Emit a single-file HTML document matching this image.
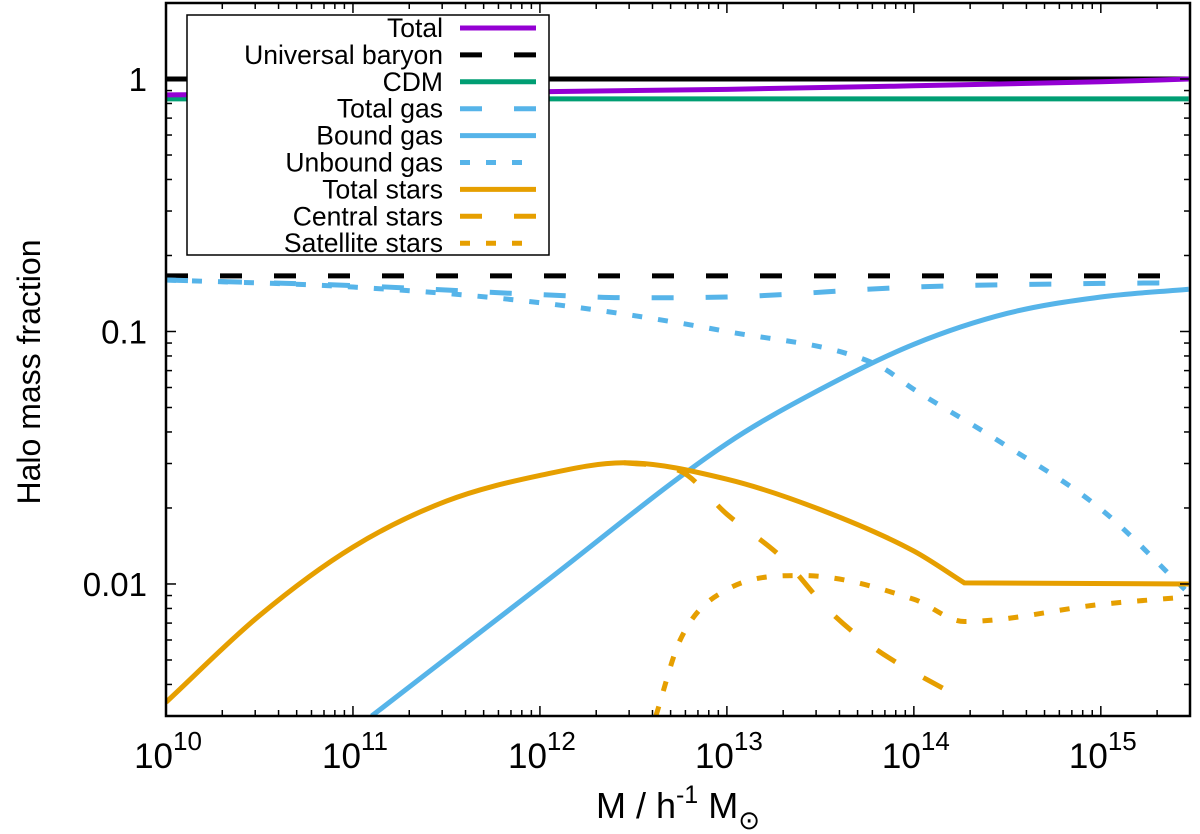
<!DOCTYPE html>
<html><head><meta charset="utf-8"><style>
body{margin:0;background:#fff}
svg{display:block;font-family:"Liberation Sans",sans-serif}
</style></head><body>
<svg id="c" width="1200" height="834" viewBox="0 0 1200 834"></svg>
<script>
const xDomainLog=[10,15.477];
const yDomainLog=[Math.log10(0.003),Math.log10(2)];
const xTickExps=[10,11,12,13,14,15];
const yTickVals=[1,0.1,0.01];
const yTickLabels=["1","0.1","0.01"];
const totalM=[10,11,12,13,14,15,15.47];
const totalV=[0.865,0.875,0.89,0.91,0.94,0.975,1.0];
const baryonM=[10,15.47];const baryonV=[0.166,0.166];
const oneV=[1,1];
const cdmV=[0.834,0.834];
const totGasM=[10,11,12,12.5,13,14,15,15.47];
const totGasV=[0.16,0.152,0.14,0.136,0.137,0.15,0.155,0.156];
const boundM=[11.1,12,13,13.5,14,14.5,15,15.47];
const boundV=[0.003,0.0098,0.036,0.059,0.089,0.118,0.137,0.147];
const unboundM=[10,11,12,13,13.8,14,14.45,15,15.45];
const unboundV=[0.16,0.15,0.13,0.10,0.074,0.059,0.037,0.0198,0.0095];
const starsM=[10,10.5,11,11.5,12,12.45,13,13.5,14,14.27,15.47];
const starsV=[0.0034,0.0075,0.014,0.0213,0.0269,0.0302,0.026,0.0197,0.0135,0.0101,0.01];
const centralM=[12.45,12.75,13,13.3,13.55,13.8,14.2];
const centralV=[0.0302,0.028,0.0189,0.0126,0.0078,0.0055,0.0037];
const satM=[12.62,12.75,13,13.4,14,14.27,15,15.47];
const satV=[0.003,0.006,0.0095,0.0108,0.0087,0.0071,0.0083,0.0089];

const L=166,R=1190,T=3,B=716;
const X=e=>L+(e-xDomainLog[0])/(xDomainLog[1]-xDomainLog[0])*(R-L);
const Y=v=>B-(Math.log10(v)-yDomainLog[0])/(yDomainLog[1]-yDomainLog[0])*(B-T);
const svg=document.getElementById('c');const NS='http://www.w3.org/2000/svg';
function mk(t,a,p){const e=document.createElementNS(NS,t);for(const k in a)e.setAttribute(k,a[k]);(p||svg).appendChild(e);return e;}
const clip=mk('clipPath',{id:'pc'});mk('rect',{x:L,y:T,width:R-L,height:B-T},clip);
function path(ms,vs,corner){const xs=ms.map(X),ys=vs.map(Y),n=xs.length;
if(n==2)return 'M'+xs[0]+','+ys[0]+' L'+xs[1]+','+ys[1];
const d=[],m=[];for(let i=0;i<n-1;i++)d.push((ys[i+1]-ys[i])/(xs[i+1]-xs[i]));
m[0]=d[0];m[n-1]=d[n-2];
for(let i=1;i<n-1;i++){m[i]=(d[i-1]*d[i]<=0)?0:(d[i-1]+d[i])/2;}
for(let i=0;i<n-1;i++){if(d[i]==0){m[i]=0;m[i+1]=0;continue;}const a=m[i]/d[i],b=m[i+1]/d[i],s=a*a+b*b;if(s>9){const t=3/Math.sqrt(s);m[i]=t*a*d[i];m[i+1]=t*b*d[i];}}
let p='M'+xs[0]+','+ys[0];
for(let i=0;i<n-1;i++){
 if(corner!==undefined&&i>=corner){p+=' L'+xs[i+1]+','+ys[i+1];continue;}
 let m1=m[i+1];if(corner!==undefined&&i+1==corner)m1=d[i];
 const h=(xs[i+1]-xs[i])/3;p+=' C'+(xs[i]+h)+','+(ys[i]+m[i]*h)+' '+(xs[i+1]-h)+','+(ys[i+1]-m1*h)+' '+xs[i+1]+','+ys[i+1];}
return p;}
const series=[
['total-line',totalM,totalV,'#9400d3',''],
['universal-baryon-line',baryonM,baryonV,'#000','22,32'],
['unity-line',baryonM,oneV,'#000',''],
['cdm-line',baryonM,cdmV,'#009e73',''],
['total-gas-line',totGasM,totGasV,'#56b4e9','22,32'],
['bound-gas-line',boundM,boundV,'#56b4e9',''],
['unbound-gas-line',unboundM,unboundV,'#56b4e9','10,16'],
['total-stars-line',starsM,starsV,'#e69f00','',starsM.length-2],
['central-stars-line',centralM,centralV,'#e69f00','22,32'],
['satellite-stars-line',satM,satV,'#e69f00','10,16']];
const g=mk('g',{'clip-path':'url(#pc)'});


[2,3,0,1,4,5,6,7,8,9].forEach(i=>{const s=series[i];
const e=mk('path',{d:path(s[1],s[2],s[5]),fill:'none',stroke:s[3],'stroke-width':5,'stroke-dasharray':s[4]},g);

});
const tk=mk('g',{stroke:'#000','stroke-width':1.5});


for(let e=10;e<=15;e++){for(let k=1;k<10;k++){const v=e+Math.log10(k);if(v>xDomainLog[1])break;const x=X(v),len=k==1?10:6;
mk('line',{x1:x,x2:x,y1:B,y2:B-len},tk);mk('line',{x1:x,x2:x,y1:T,y2:T+len},tk);}}
for(let e=-3;e<=0;e++){for(let k=1;k<10;k++){const v=k*Math.pow(10,e);if(Math.log10(v)<yDomainLog[0]||Math.log10(v)>yDomainLog[1])continue;const y=Y(v),len=k==1?10:6;
mk('line',{x1:L,x2:L+len,y1:y,y2:y},tk);mk('line',{x1:R,x2:R-len,y1:y,y2:y},tk);}}
const fr=mk('rect',{x:L,y:T,width:R-L,height:B-T,fill:'none',stroke:'#000','stroke-width':2.5});


xTickExps.forEach(e=>{const t=mk('text',{x:X(e)+2,y:768,'font-size':35,'text-anchor':'middle'});


t.innerHTML='10<tspan dy="-18" font-size="26">'+e+'</tspan>';});
yTickVals.forEach((v,i)=>{const t=mk('text',{x:147,y:Y(v)+12,'font-size':33,'text-anchor':'end'});


t.textContent=yTickLabels[i];});
const xt=mk('text',{x:678,y:818,'font-size':36,'text-anchor':'middle'});


xt.innerHTML='M / h<tspan dy="-15" font-size="25">-1</tspan><tspan dy="15"> M</tspan><tspan dy="11" font-size="26">⊙</tspan>';
const yt=mk('text',{x:0,y:0,'font-size':32,'text-anchor':'middle',transform:'translate(40,372) rotate(-90)'});


yt.textContent='Halo mass fraction';
const lg=mk('g',{});


mk('rect',{x:187,y:15,width:362,height:240,fill:'#fff',stroke:'#000','stroke-width':1.5},lg);
const names=['Total','Universal baryon','CDM','Total gas','Bound gas','Unbound gas','Total stars','Central stars','Satellite stars'];
const order=[0,1,3,4,5,6,7,8,9];
names.forEach((n,i)=>{const y=28+i*26.9;const s=series[order[i]];
const t=mk('text',{x:443,y:y+9,'font-size':26.5,'text-anchor':'end'},lg);t.textContent=n;


const l=mk('line',{x1:460,x2:536,y1:y,y2:y,stroke:s[3],'stroke-width':5,'stroke-dasharray':s[4]},lg);

});
</script>
</body></html>
